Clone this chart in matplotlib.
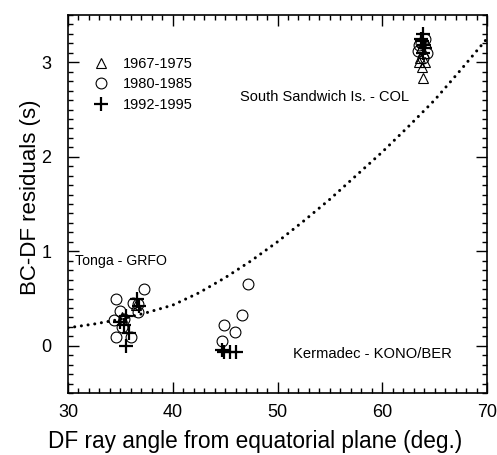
import matplotlib
matplotlib.use("Agg")
import matplotlib.pyplot as plt
from matplotlib.ticker import MultipleLocator

plt.rcParams['font.family'] = ['Liberation Sans', 'DejaVu Sans']

# 1967-1975 (triangles)
tri_x = [36.5, 35.2, 63.9, 63.8, 64.1, 63.6, 64.0, 63.7, 64.2, 63.5]
tri_y = [0.43, 0.30, 2.83, 2.95, 3.00, 3.05, 3.10, 3.15, 3.20, 3.00]
# 1980-1985 (circles)
cir_x = [34.6, 37.3, 36.2, 36.7, 35.0, 36.7, 34.4, 35.3, 35.2, 34.6, 36.0,
         47.2, 46.6, 44.9, 45.9, 44.7,
         63.4, 64.3, 63.7, 64.1, 63.5, 63.9]
cir_y = [0.49, 0.60, 0.45, 0.44, 0.37, 0.36, 0.27, 0.28, 0.20, 0.09, 0.09,
         0.65, 0.33, 0.22, 0.15, 0.05,
         3.12, 3.10, 3.20, 3.25, 3.18, 3.05]
# 1992-1995 (plus)
plus_x = [35.5, 36.6, 35.0, 35.3, 35.5, 35.8, 36.8,
          44.9, 45.5, 46.0, 44.7,
          63.9, 63.8, 64.0, 63.7, 64.1, 63.9]
plus_y = [0.32, 0.50, 0.25, 0.22, 0.00, 0.13, 0.42,
          -0.07, -0.07, -0.07, -0.05,
          3.30, 3.22, 3.18, 3.25, 3.15, 3.10]

# model curve (dotted)
curve_x = [30, 32.5, 35, 37.5, 40, 42.5, 45, 47.5, 50, 52.5, 55, 57.5, 60, 62.5, 65, 67.5, 70]
curve_y = [0.19, 0.23, 0.28, 0.35, 0.43, 0.56, 0.72, 0.90, 1.10, 1.32, 1.55, 1.80, 2.05, 2.32, 2.60, 2.92, 3.25]

fig = plt.figure(figsize=(4.97, 4.55), dpi=100)
ax = fig.add_axes([68/497, 1 - 393/455, (487-68)/497, (393-15)/455])

ax.plot(curve_x, curve_y, linestyle=(0, (0.01, 2.2)), color='black', linewidth=2.2,
        dash_capstyle='round', solid_capstyle='round')
ax.plot(tri_x, tri_y, linestyle='none', marker='^', markersize=7.5, markerfacecolor='none',
        markeredgecolor='black', markeredgewidth=0.8, label='1967-1975')
ax.plot(cir_x, cir_y, linestyle='none', marker='o', markersize=7.8, markerfacecolor='none',
        markeredgecolor='black', markeredgewidth=0.8, label='1980-1985')
ax.plot(plus_x, plus_y, linestyle='none', marker='+', markersize=10, color='black',
        markeredgewidth=1.6, label='1992-1995')

ax.set_xlim(30, 70)
ax.set_ylim(-0.5, 3.5)
ax.xaxis.set_major_locator(MultipleLocator(10))
ax.xaxis.set_minor_locator(MultipleLocator(1))
ax.yaxis.set_major_locator(MultipleLocator(1))
ax.yaxis.set_minor_locator(MultipleLocator(0.1))
ax.tick_params(which='both', direction='in', top=True, right=True, labelsize=13, width=1)
ax.tick_params(which='major', length=8)
ax.tick_params(which='minor', length=3.5)
ax.tick_params(axis='x', pad=8)
ax.tick_params(axis='y', pad=12)
for s in ax.spines.values():
    s.set_linewidth(1.2)

ax.set_xlabel('DF ray angle from equatorial plane (deg.)', fontsize=16.3)
ax.set_ylabel('BC-DF residuals (s)', fontsize=16)
ax.xaxis.set_label_coords(0.447, -0.097)
ax.yaxis.set_label_coords(-0.064, 0.518)

ax.text(30.7, 0.9, 'Tonga - GRFO', fontsize=10.2, va='center', ha='left')
ax.text(51.5, -0.09, 'Kermadec - KONO/BER', fontsize=10.6, va='center', ha='left')
ax.text(46.4, 2.63, 'South Sandwich Is. - COL', fontsize=10.5, va='center', ha='left')

ax.legend(loc='upper left', bbox_to_anchor=(0.045, 0.905), frameon=False, fontsize=10.5,
          handlelength=1.2, handletextpad=0.9, labelspacing=0.45, borderaxespad=0)

fig.savefig('out.png', dpi=100)
